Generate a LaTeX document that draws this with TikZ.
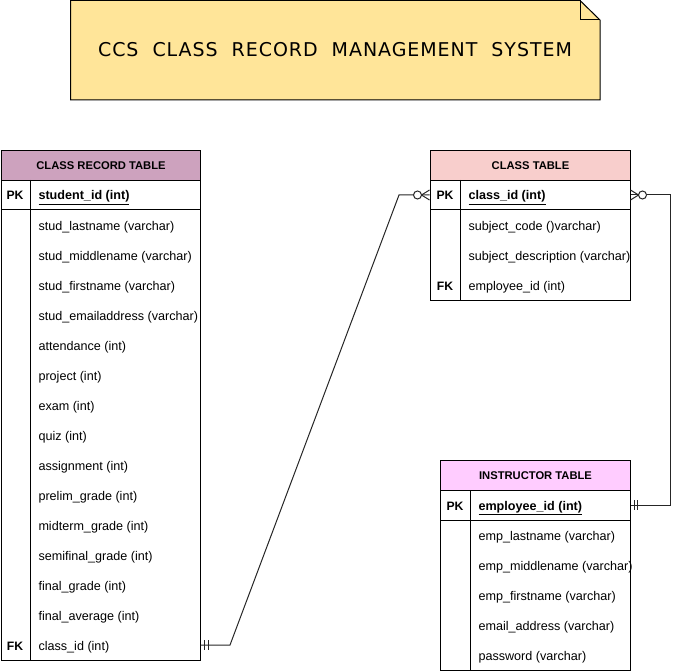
\documentclass[tikz,border=0pt]{standalone}
\usepackage{fontspec}
\setmainfont{Liberation Sans}
\newfontfamily\titlefont[LetterSpace=5]{DejaVu Sans}
\definecolor{notefill}{HTML}{FFE599}
\definecolor{crhead}{HTML}{CDA2BE}
\definecolor{clhead}{HTML}{F8CECC}
\definecolor{inhead}{HTML}{FFCCFF}
\begin{document}
\begin{tikzpicture}[x=1pt,y=-1pt,line width=1pt,
  hdrbox/.style={draw=black,line width=1pt,anchor=north west,inner sep=0pt,minimum height=30pt,text height=8pt,text depth=0pt,font=\bfseries\fontsize{11.2}{13}\selectfont},
  bodybox/.style={draw=black,line width=1pt,anchor=north west,inner sep=0pt},
  fld/.style={anchor=west,inner sep=0pt,text height=10pt,text depth=0pt,font=\fontsize{12.6}{14}\selectfont},
  keyfld/.style={fld,font=\bfseries\fontsize{12.6}{14}\selectfont},
  keylbl/.style={inner sep=0pt,text height=10pt,text depth=0pt,font=\bfseries\fontsize{12.2}{14}\selectfont},
  rowarea/.style={inner sep=0pt,minimum height=30pt},
  conn/.style={draw=black!85,line width=1pt},
  ermark/.style={draw=black!85,line width=1pt}]
\useasboundingbox (0,0) rectangle (680,671);

% title note
\draw[fill=notefill,line width=1pt] (70.5,0.5) -- (580,0.5) -- (600,20) -- (600,100) -- (70.5,100) -- cycle;
\draw[line width=1pt] (580,0.5) -- (580,20) -- (600,20);
\node (title) at (335,50) {\titlefont\fontsize{19}{23}\selectfont CCS\ \ CLASS\ \ RECORD\ \ MANAGEMENT\ \ SYSTEM};

% CLASS RECORD TABLE
\node[hdrbox,fill=crhead,minimum width=199pt] (crh) at (1,150) {CLASS RECORD TABLE};
\node[bodybox,minimum width=199pt,minimum height=480pt] (crb) at (1,180) {};
\draw (1,210) -- (200,210);
\draw (30,180) -- (30,660);
\node[keylbl] (crpkl) at (15,195) {PK};
\node[keyfld] (crpk) at (38,195) {\underline{student\_id (int)}};
\foreach \yy/\ftxt in {225/stud\_lastname (varchar),255/stud\_middlename (varchar),285/stud\_firstname (varchar),315/stud\_emailaddress (varchar),345/attendance (int),375/project (int),405/exam (int),435/quiz (int),465/assignment (int),495/prelim\_grade (int),525/midterm\_grade (int),555/semifinal\_grade (int),585/final\_grade (int),615/final\_average (int)}
  \node[fld] at (38,\yy) {\ftxt};
\node[keylbl] (crfkl) at (15,645) {FK};
\node[fld] (crfkt) at (38,645) {class\_id (int)};
\node[rowarea,minimum width=199pt] (crfk) at (100.5,645) {};

% CLASS TABLE
\node[hdrbox,fill=clhead,minimum width=200pt] (clh) at (430,150) {CLASS TABLE};
\node[bodybox,minimum width=200pt,minimum height=120pt] (clb) at (430,180) {};
\draw (430,210) -- (630,210);
\draw (460,180) -- (460,300);
\node[keylbl] (clpkl) at (445,195) {PK};
\node[keyfld] (clpkt) at (468,195) {\underline{class\_id (int)}};
\node[rowarea,minimum width=200pt] (clpk) at (530,195) {};
\node[fld] at (468,225) {subject\_code ()varchar)};
\node[fld] at (468,255) {subject\_description (varchar)};
\node[keylbl] (clfkl) at (445,285) {FK};
\node[fld] at (468,285) {employee\_id (int)};

% INSTRUCTOR TABLE
\node[hdrbox,fill=inhead,minimum width=190pt] (inh) at (440,460) {INSTRUCTOR TABLE};
\node[bodybox,minimum width=190pt,minimum height=180pt] (inb) at (440,490) {};
\draw (440,520) -- (630,520);
\draw (470,490) -- (470,670);
\node[keylbl] (inpkl) at (455,505) {PK};
\node[keyfld] (inpkt) at (478,505) {\underline{employee\_id (int)}};
\node[rowarea,minimum width=190pt] (inpk) at (535,505) {};
\foreach \yy/\ftxt in {535/emp\_lastname (varchar),565/emp\_middlename (varchar),595/emp\_firstname (varchar),625/email\_address (varchar),655/password (varchar)}
  \node[fld] at (478,\yy) {\ftxt};

% connector 1: class record (class_id) -> class table (class_id)
\coordinate (c1a) at (230,645);
\coordinate (c1b) at (399,195);
\draw[conn] (crfk.east) -- (c1a) -- (c1b) -- (clpk.west);
\draw[ermark] ([xshift=4pt]crfk.east) ++(0,-5) -- ++(0,10);
\draw[ermark] ([xshift=8pt]crfk.east) ++(0,-5) -- ++(0,10);
\draw[ermark,fill=white] ([xshift=-12pt]clpk.west) circle (4pt);
\draw[ermark] ([xshift=-8pt]clpk.west) -- ([yshift=-5pt]clpk.west);
\draw[ermark] ([xshift=-8pt]clpk.west) -- ([yshift=5pt]clpk.west);

% connector 2: class table (class_id) -> instructor (employee_id)
\coordinate (c2a) at (670,195);
\coordinate (c2b) at (670,505);
\draw[conn] (clpk.east) -- (c2a) -- (c2b) -- (inpk.east);
\draw[ermark] ([xshift=8pt]clpk.east) -- ([yshift=-5pt]clpk.east);
\draw[ermark] ([xshift=8pt]clpk.east) -- ([yshift=5pt]clpk.east);
\draw[ermark,fill=white] ([xshift=12pt]clpk.east) circle (4pt);
\draw[ermark] ([xshift=4pt]inpk.east) ++(0,-5) -- ++(0,10);
\draw[ermark] ([xshift=7pt]inpk.east) ++(0,-5) -- ++(0,10);
\end{tikzpicture}
\end{document}
